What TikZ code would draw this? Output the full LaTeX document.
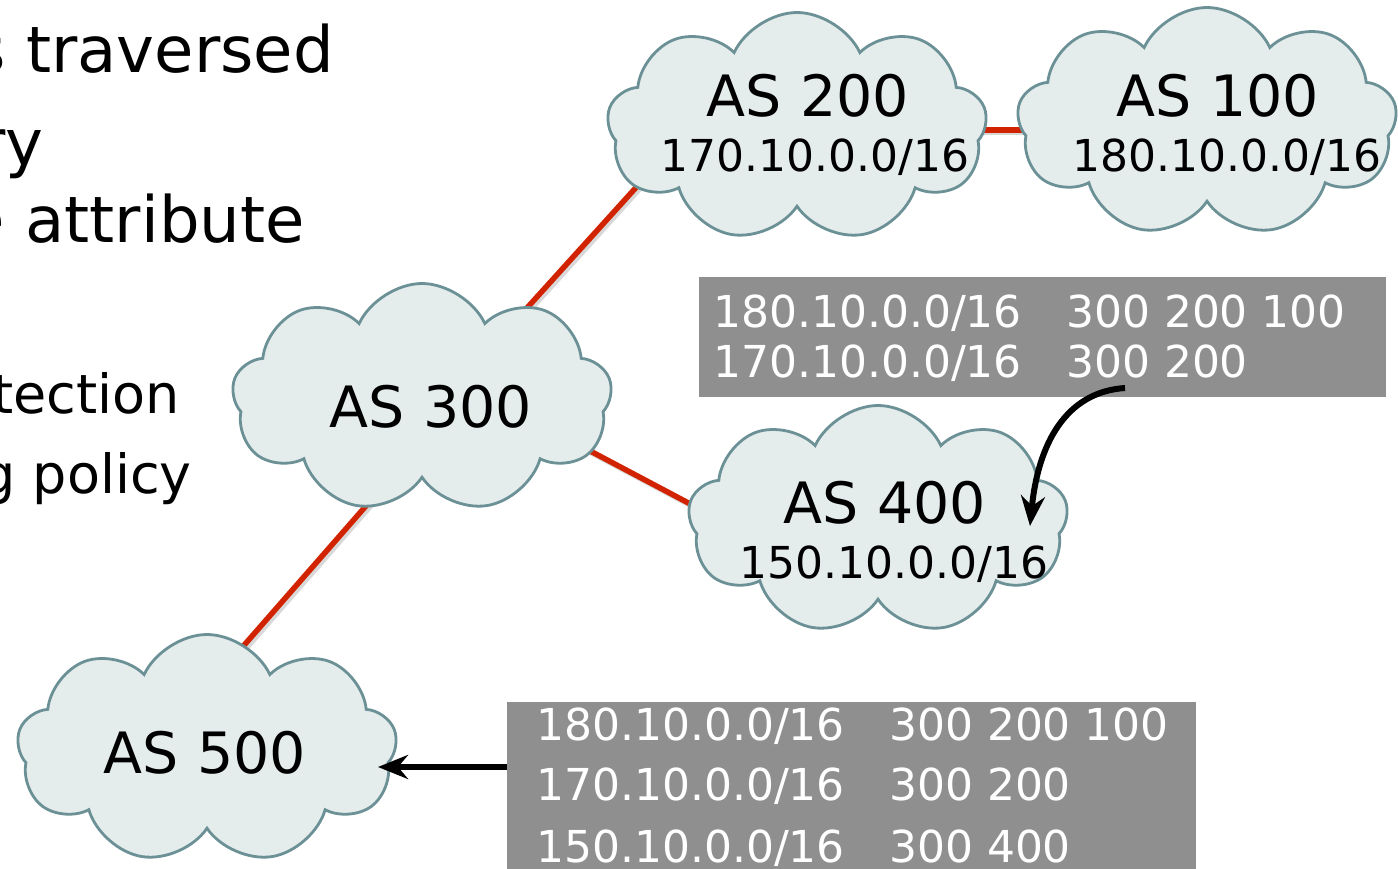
\documentclass[tikz,border=0pt]{standalone}
\usepackage{fontspec}
\setmainfont{DejaVu Sans}
\usetikzlibrary{shapes.symbols,arrows.meta}
\definecolor{cloudfill}{RGB}{229,236,236}
\definecolor{cloudline}{RGB}{107,145,150}
\definecolor{boxgray}{RGB}{143,143,143}
\definecolor{linkred}{RGB}{210,35,0}
\newcommand\rowtxt[2]{\makebox[353pt][l]{#1}#2}
\tikzset{
  ascloud/.style={cloud, cloud puffs=9, cloud puff arc=130, cloud ignores aspect,
    minimum width=380pt, minimum height=229pt, inner sep=0pt,
    draw=cloudline, fill=cloudfill, line width=2.8pt},
  aslabel/.style={anchor=base, inner sep=0pt, font=\fontsize{57}{60}\selectfont},
  asaddr/.style={anchor=base, inner sep=0pt, font=\fontsize{44}{48}\selectfont},
  bigtxt/.style={anchor=base east, inner sep=0pt, font=\fontsize{64}{70}\selectfont},
  midtxt/.style={anchor=base east, inner sep=0pt, font=\fontsize{54}{60}\selectfont},
  tablebox/.style={rectangle, fill=boxgray, inner sep=0pt},
  rowtext/.style={anchor=base west, inner sep=0pt, text=white, font=\fontsize{44}{46}\selectfont},
  link/.style={draw=linkred, line width=5.5pt,
    preaction={draw=black!30, line width=5.5pt, opacity=0.5, transform canvas={shift={(2.5pt,-2.5pt)}}}},
  arr/.style={draw=black, line width=6pt, -{Stealth[length=30pt,width=24pt,inset=10pt]}}
}
\begin{document}
\begin{tikzpicture}[x=1pt,y=-1pt]
\useasboundingbox (0,0) rectangle (1398,869);
% left text (cut off)
\node[bigtxt] (t1) at (334,73) {s traversed};
\node[bigtxt] (t2) at (44,166) {ry};
\node[bigtxt] (t3) at (305,243) {e attribute};
\node[midtxt] (t4) at (180,413) {tection};
\node[midtxt] (t5) at (192,493) {g policy};
% link end points (hidden inside the clouds)
\coordinate (l1a) at (498,340); \coordinate (l1b) at (660,161);
\coordinate (l2a) at (960,130); \coordinate (l2b) at (1045,130);
\coordinate (l3a) at (560,435); \coordinate (l3b) at (730,525);
\coordinate (l4a) at (400,467); \coordinate (l4b) at (225,667);
\draw[link] (l1a) -- (l1b);
\draw[link] (l2a) -- (l2b);
\draw[link] (l3a) -- (l3b);
\draw[link] (l4a) -- (l4b);
% clouds
\node[ascloud] (as200) at (797,127) {};
\node[ascloud] (as100) at (1207,122) {};
\node[ascloud] (as300) at (422,398) {};
\node[ascloud] (as400) at (878,520) {};
\node[ascloud] (as500) at (207,749) {};
\node[aslabel] (as200t) at (808,117) {AS 200};
\node[asaddr] (as200a) at (815,172) {170.10.0.0/16};
\node[aslabel] (as100t) at (1218,117) {AS 100};
\node[asaddr] (as100a) at (1227,172) {180.10.0.0/16};
\node[aslabel] (as300t) at (431,427) {AS 300};
\node[aslabel] (as400t) at (885,523) {AS 400};
\node[asaddr] (as400a) at (894,578) {150.10.0.0/16};
\node[aslabel] (as500t) at (205,773) {AS 500};
% table boxes
\node[tablebox, minimum width=687pt, minimum height=120pt] (box1) at (1042,337) {};
\node[tablebox, minimum width=689pt, minimum height=180pt] (box2) at (851.5,792) {};
\node[rowtext] (b1r1) at (713,327) {\rowtxt{180.10.0.0/16}{300 200 100}};
\node[rowtext] (b1r2) at (713,377) {\rowtxt{170.10.0.0/16}{300 200}};
\node[rowtext] (b2r1) at (536,740) {\rowtxt{180.10.0.0/16}{300 200 100}};
\node[rowtext] (b2r2) at (536,800) {\rowtxt{170.10.0.0/16}{300 200}};
\node[rowtext] (b2r3) at (536,862) {\rowtxt{150.10.0.0/16}{300 400}};
% arrows
\coordinate (a1s) at (1125,388);
\coordinate (a1e) at (1030,526);
\draw[arr] (a1s) .. controls (1065,392) and (1038,445) .. (a1e);
\coordinate (a2e) at (378,767);
\draw[arr] (a2e -| box2.west) -- (a2e);
\end{tikzpicture}
\end{document}
